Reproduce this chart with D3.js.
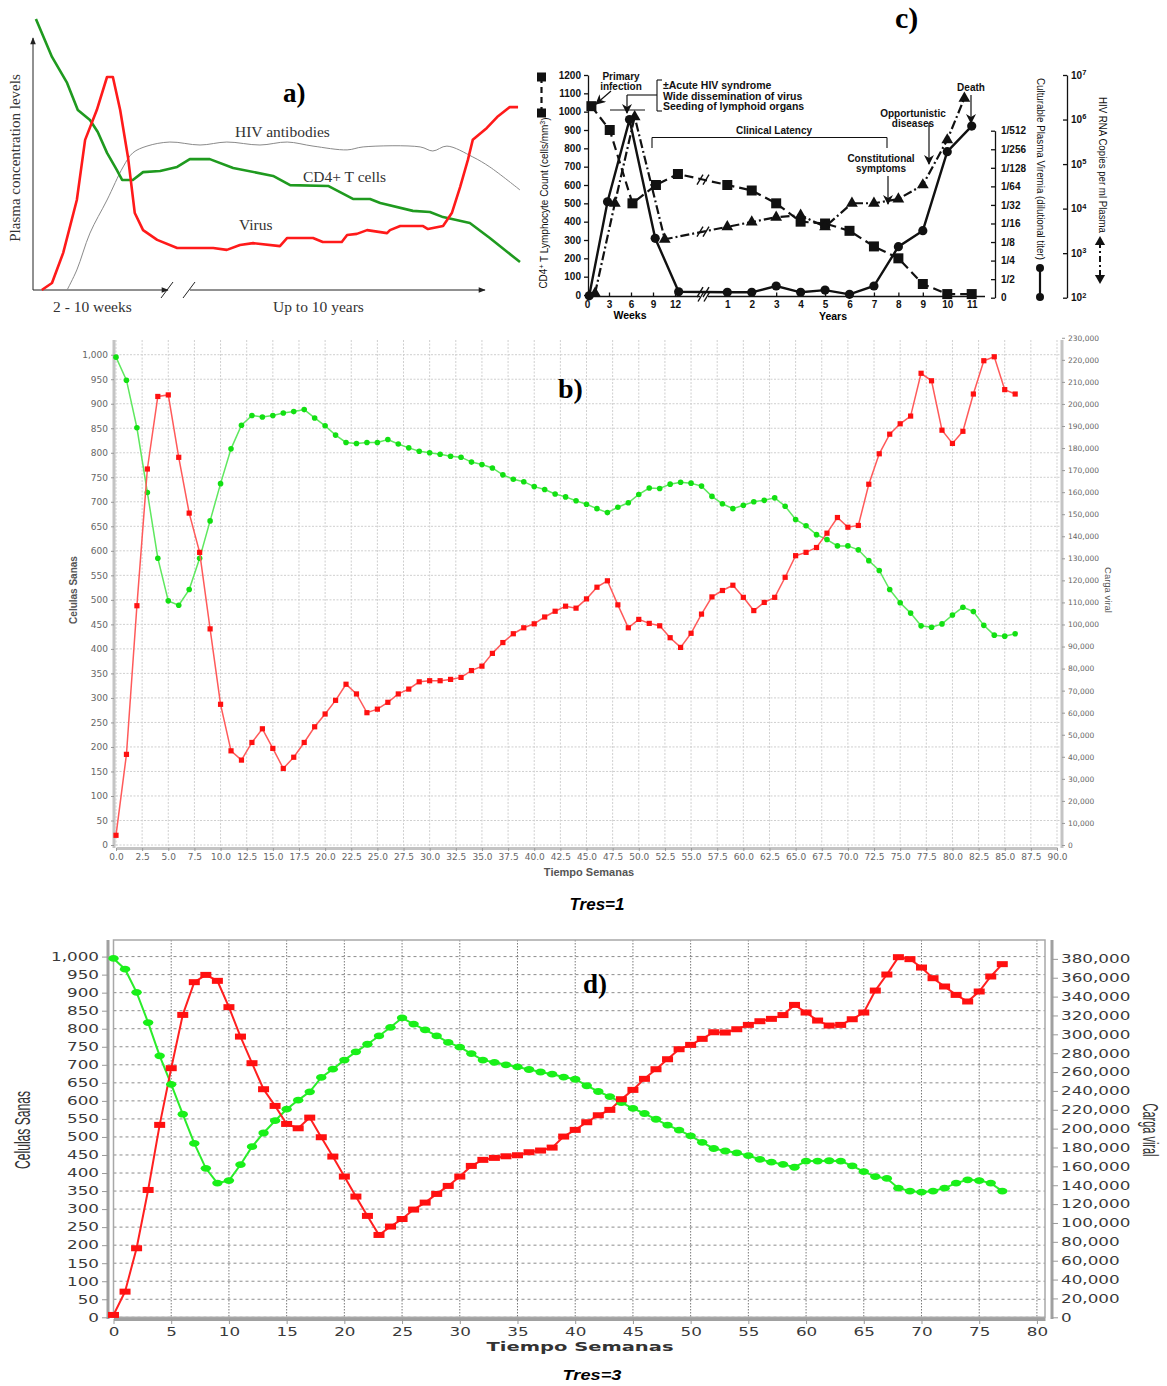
<!DOCTYPE html>
<html>
<head>
<meta charset="utf-8">
<script src="https://d3js.org/d3.v7.min.js"></script>
<style>
  body { margin: 0; background: #fff; }
  svg { display: block; }
</style>
</head>
<body>
<script>
/* Data */

// a) schematic curves, [time 0-100, level 0-100]
var aCd4 = [[0.6,100],[3.9,86],[7.0,76.4],[9.2,66.4],[11.7,62.7],[13.3,58.3],[15.2,50.6],[17.2,44.3],[18.3,40.6],[20.5,40.6],[22.6,43.5],[26.1,43.9],[29.6,45.4],[32.2,48.3],[36.3,48.3],[41.1,45.0],[49.3,42.1],[52.8,38.7],[60.6,38.4],[65.7,33.6],[69.2,33.6],[71.3,32.1],[78.0,29.2],[81.5,28.8],[84.2,26.9],[89.7,24.7],[93.8,19.2],[100,10.3]];
var aVirus = [[1.8,0],[3.9,2.6],[6.2,13.7],[9.0,33.2],[10.7,55.4],[13.1,66.4],[15.2,78.6],[16.4,78.6],[17.9,66.4],[19.5,49.1],[20.9,28.4],[22.6,22.1],[25.5,18.5],[29.6,15.5],[37.0,15.5],[39.8,14.8],[42.5,16.6],[45.2,17.3],[50.7,16.2],[52.2,19.2],[57.5,19.2],[59.5,17.7],[63.4,17.7],[64.5,20.3],[66.5,20.7],[68.6,22.1],[72.7,21.0],[73.3,22.1],[75.4,23.6],[80.1,23.6],[81.1,22.5],[84.2,23.6],[86.0,28.4],[87.7,38.0],[89.3,48.0],[90.3,55.4],[93.2,59.8],[95.3,63.8],[97.9,67.5],[99.6,67.5]];
var aAntibodies = [[7.0,0],[9.0,7.4],[11.7,21.0],[15.2,33.2],[18.5,45.4],[20.5,50.6],[23.4,53.1],[28.1,54.6],[34.3,53.5],[39.8,54.6],[46.6,53.5],[52.2,54.6],[57.5,53.1],[64.5,51.7],[67.8,52.8],[79.5,52.8],[82.1,51.3],[85.0,53.1],[90.3,49.1],[93.8,45.4],[100,36.9]];

// c) CD4 count (squares), HIV RNA (triangles), viremia titer step (circles)
var cSquareWeeks = [0.6, 3.1, 6.2, 9.4, 12.4];
var cSquareWeekVals = [1030, 900, 500, 600, 660];
var cSquareYears = [1, 2, 3, 4, 5, 6, 7, 8, 9, 10, 11];
var cSquareYearVals = [600, 570, 500, 400, 390, 350, 265, 200, 60, 5, 5];
var cTriWeeks = [1.1, 3.8, 6.5, 10.6];
var cTriWeekVals = [125, 13200, 1150000, 2050];
var cTriYears = [1, 2, 3, 4, 5, 6.1, 7, 8, 9, 10, 10.7];
var cTriYearVals = [3900, 5000, 6400, 7100, 3900, 13200, 13200, 16400, 34000, 348000, 3000000];
var cCircWeeks = [0.3, 2.8, 5.8, 9.3, 12.5];
var cCircWeekVals = [0.1, 5.17, 9.6, 3.2, 0.32];
var cCircYears = [1, 2, 3, 4, 5, 6, 7, 8, 9, 10, 11];
var cCircYearVals = [0.29, 0.29, 0.63, 0.29, 0.41, 0.18, 0.63, 2.75, 3.61, 7.87, 9.25];
var cLeftTicks = [0, 100, 200, 300, 400, 500, 600, 700, 800, 900, 1000, 1100, 1200];
var cWeekTicks = [0, 3, 6, 9, 12];
var cYearTicks = [1, 2, 3, 4, 5, 6, 7, 8, 9, 10, 11];
var cTiterLabels = ["0", "1/2", "1/4", "1/8", "1/16", "1/32", "1/64", "1/128", "1/256", "1/512"];
var cRnaTicks = [1e2, 1e3, 1e4, 1e5, 1e6, 1e7];

// b) Tres=1, one value per week
var bCells = [995, 948, 851, 719, 585, 498, 489, 521, 585, 661,
  737, 808, 856, 876, 873, 876, 881, 884, 888, 871,
  855, 836, 821, 819, 821, 821, 827, 818, 810, 803,
  800, 797, 793, 791, 781, 776, 769, 755, 746, 741,
  731, 725, 716, 710, 702, 695, 686, 678, 689, 698,
  715, 728, 727, 736, 740, 738, 732, 711, 696, 686,
  693, 700, 703, 708, 691, 664, 651, 633, 623, 610,
  610, 602, 580, 560, 521, 494, 473, 447, 444, 451,
  469, 485, 476, 448, 428, 426, 431];
var bViral = [4400, 41100, 108500, 170500, 203400, 204100, 175800, 150500, 132700, 98000,
  63800, 42700, 38500, 46500, 52700, 43800, 34700, 39800, 46500, 53600,
  59400, 65600, 72900, 68500, 60000, 61600, 64700, 68500, 70700, 74000,
  74500, 74500, 75100, 76000, 79100, 81100, 86900, 91800, 95800, 98500,
  100300, 103400, 106000, 108300, 107400, 111600, 116900, 119800, 108900, 98500,
  102300, 100500, 99400, 94000, 89600, 96000, 104700, 112500, 115400, 117800,
  112300, 106300, 110000, 112300, 121400, 131200, 132700, 134900, 141400, 148500,
  144100, 144900, 163600, 177400, 186300, 191000, 194500, 213900, 210500, 188100,
  182100, 187600, 204500, 219600, 221400, 206500, 204500];
var bLeftTicks = d3.range(0, 1001, 50);
var bRightTicks = d3.range(0, 230001, 10000);
var bXTicks = d3.range(0, 90.01, 2.5);

// d) Tres=3, one value per week
var dCells = [995, 965, 901, 817, 725, 646, 563, 482, 413, 372,
  379, 423, 473, 511, 545, 577, 602, 625, 665, 688,
  713, 736, 757, 780, 804, 830, 813, 797, 780, 762,
  749, 731, 713, 707, 700, 694, 687, 680, 674, 666,
  660, 642, 626, 612, 595, 579, 565, 549, 533, 519,
  503, 485, 468, 461, 456, 448, 438, 430, 424, 416,
  433, 433, 434, 433, 420, 404, 390, 385, 358, 350,
  347, 350, 358, 372, 381, 379, 372, 350];
var dViral = [2500, 27200, 73200, 135000, 204000, 264100, 320600, 355300, 363000, 356700,
  328800, 297600, 269400, 241800, 224100, 205000, 200400, 211700, 190900, 170400,
  149200, 128000, 107500, 87300, 96200, 104200, 114200, 121600, 130800, 139300,
  149200, 160500, 166900, 169000, 170700, 171800, 175000, 176800, 179900, 191600,
  198700, 206800, 214200, 219900, 231200, 241100, 252800, 263000, 273600, 284200,
  288800, 295200, 302200, 301900, 305400, 310000, 313900, 316400, 320400, 331200,
  323100, 314600, 309300, 310000, 316000, 323100, 346400, 363400, 381800, 379700,
  370800, 359500, 350700, 341800, 334800, 345400, 361300, 374400];
var dLeftTicks = d3.range(0, 1001, 50);
var dRightTicks = d3.range(0, 380001, 20000);
var dXTicks = d3.range(0, 81, 5);

/* Global svg */
var svg = d3.select("body").append("svg")
  .attr("width", 1167)
  .attr("height", 1386)
  .style("background", "#fff");

var defs = svg.append("defs");
defs.append("marker").attr("id", "headA")
  .attr("viewBox", "0 0 10 10").attr("refX", 9).attr("refY", 5)
  .attr("markerWidth", 8).attr("markerHeight", 7).attr("markerUnits", "userSpaceOnUse")
  .attr("orient", "auto")
  .append("path").attr("d", "M0,1 L10,5 L0,9 z").attr("fill", "#222");
defs.append("marker").attr("id", "headC")
  .attr("viewBox", "0 0 10 10").attr("refX", 9).attr("refY", 5)
  .attr("markerWidth", 11).attr("markerHeight", 10).attr("markerUnits", "userSpaceOnUse")
  .attr("orient", "auto")
  .append("path").attr("d", "M0,0 L10,5 L0,10 L3,5 z").attr("fill", "#111");

var serif = "'Liberation Serif', 'DejaVu Serif', serif";
var sans = "'Liberation Sans', Arial, sans-serif";
var dejavu = "'DejaVu Sans', sans-serif";

drawPanelA();
drawPanelC();
drawPanelB();
drawPanelD();


//Panel a: schematic course of infection
function drawPanelA() {
  var g = svg.append("g");
  var x = d3.scaleLinear().domain([0, 100]).range([33, 520]);
  var y = d3.scaleLinear().domain([0, 100]).range([290, 19]);

  //axes with arrows and break
  g.append("line").attr("x1", 33).attr("y1", 290).attr("x2", 33).attr("y2", 38)
    .attr("stroke", "#222").attr("stroke-width", 1).attr("marker-end", "url(#headA)");
  g.append("line").attr("x1", 33).attr("y1", 290).attr("x2", 168).attr("y2", 290)
    .attr("stroke", "#222").attr("stroke-width", 1).attr("marker-end", "url(#headA)");
  g.append("line").attr("x1", 190).attr("y1", 290).attr("x2", 485).attr("y2", 290)
    .attr("stroke", "#222").attr("stroke-width", 1).attr("marker-end", "url(#headA)");
  [[161, 173], [183, 195]].forEach(function (s) {
    g.append("line").attr("x1", s[0]).attr("y1", 298).attr("x2", s[1]).attr("y2", 282)
      .attr("stroke", "#222").attr("stroke-width", 1);
  });

  var lin = d3.line().x(function (d) { return x(d[0]); }).y(function (d) { return y(d[1]); });
  var smooth = d3.line().curve(d3.curveCatmullRom)
    .x(function (d) { return x(d[0]); }).y(function (d) { return y(d[1]); });

  g.append("path").datum(aAntibodies).attr("d", smooth)
    .attr("fill", "none").attr("stroke", "#8a8a8a").attr("stroke-width", 1);
  g.append("path").datum(aCd4).attr("d", lin)
    .attr("fill", "none").attr("stroke", "#1f9a1f").attr("stroke-width", 2.6).attr("stroke-linejoin", "round");
  g.append("path").datum(aVirus).attr("d", lin)
    .attr("fill", "none").attr("stroke", "#ff1a1a").attr("stroke-width", 2.6).attr("stroke-linejoin", "round");

  //labels
  var labels = [["HIV antibodies", 235, 137], ["CD4+ T cells", 303, 182], ["Virus", 239, 230],
    ["2 - 10 weeks", 53, 312], ["Up to 10 years", 273, 312]];
  labels.forEach(function (l) {
    g.append("text").attr("x", l[1]).attr("y", l[2]).text(l[0])
      .attr("font-family", serif).attr("font-size", 15.5).attr("fill", "#333");
  });
  g.append("text").attr("transform", "translate(20,158) rotate(-90)")
    .attr("text-anchor", "middle").attr("font-family", serif).attr("font-size", 15)
    .attr("fill", "#333").text("Plasma concentration levels");
  g.append("text").attr("x", 283).attr("y", 102).text("a)")
    .attr("font-family", serif).attr("font-weight", "bold").attr("font-size", 27);
}


//Panel c: clinical course (three series on three axes)
function drawPanelC() {
  var g = svg.append("g").attr("font-family", sans);
  var weekX = d3.scaleLinear().domain([0, 12]).range([587, 675]);
  var yearX = d3.scaleLinear().domain([1, 11]).range([727.3, 971.7]);
  var leftY = d3.scaleLinear().domain([0, 1200]).range([295, 75]);
  var titerY = d3.scaleLinear().domain([0, 9]).range([297.7, 130.7]);
  var rnaY = d3.scaleLog().domain([1e2, 1e7]).range([297.7, 75]);

  function pts(wk, wv, yr, yv, sy) {
    return wk.map(function (w, i) { return [weekX(w), sy(wv[i])]; })
      .concat(yr.map(function (t, i) { return [yearX(t), sy(yv[i])]; }));
  }
  var sq = pts(cSquareWeeks, cSquareWeekVals, cSquareYears, cSquareYearVals, leftY);
  var tri = pts(cTriWeeks, cTriWeekVals, cTriYears, cTriYearVals, rnaY);
  var circ = pts(cCircWeeks, cCircWeekVals, cCircYears, cCircYearVals, titerY);

  //left axis
  var la = g.append("g").attr("transform", "translate(588,0)")
    .call(d3.axisLeft(leftY).tickValues(cLeftTicks).tickFormat(d3.format("d")).tickSize(4).tickSizeOuter(0));
  styleC(la);

  //bottom axes
  var wa = g.append("g").attr("transform", "translate(0,296.5)")
    .call(d3.axisBottom(weekX).tickValues(cWeekTicks).tickSize(-4).tickPadding(4));
  var ya = g.append("g").attr("transform", "translate(0,296.5)")
    .call(d3.axisBottom(yearX).tickValues(cYearTicks).tickSize(-4).tickPadding(4));
  styleC(wa); styleC(ya);
  wa.select(".domain").remove(); ya.select(".domain").remove();
  g.append("line").attr("x1", 587).attr("x2", 700).attr("y1", 296.5).attr("y2", 296.5).attr("stroke", "#111").attr("stroke-width", 1.3);
  g.append("line").attr("x1", 708).attr("x2", 985).attr("y1", 296.5).attr("y2", 296.5).attr("stroke", "#111").attr("stroke-width", 1.3);
  g.append("text").attr("x", 630).attr("y", 319).attr("text-anchor", "middle").attr("font-weight", "bold").attr("font-size", 10.5).text("Weeks");
  g.append("text").attr("x", 833).attr("y", 320).attr("text-anchor", "middle").attr("font-weight", "bold").attr("font-size", 10.5).text("Years");

  //right axis: viremia
  var ta = g.append("g").attr("transform", "translate(995,0)")
    .call(d3.axisRight(titerY).tickValues(d3.range(cTiterLabels.length)).tickSize(-4).tickPadding(6).tickSizeOuter(0)
      .tickFormat(function (i) { return cTiterLabels[i]; }));
  styleC(ta);
  ta.selectAll("text").attr("text-anchor", "start");

  //right axis: RNA copies
  var ra = g.append("g").attr("transform", "translate(1067,0)")
    .call(d3.axisRight(rnaY).tickValues(cRnaTicks).tickSize(-4).tickPadding(4).tickSizeOuter(0));
  styleC(ra);
  ra.selectAll("text").each(function (d) {
    var t = d3.select(this);
    t.text("10");
    t.append("tspan").attr("dy", "-0.5em").attr("font-size", 7.5).text(Math.round(Math.log10(d)));
  });

  //axis titles
  var lt = g.append("text").attr("transform", "translate(547,203) rotate(-90)")
    .attr("text-anchor", "middle").attr("font-size", 10).attr("fill", "#111");
  lt.append("tspan").text("CD4");
  lt.append("tspan").attr("dy", "-0.4em").attr("font-size", 7).text("+");
  lt.append("tspan").attr("dy", "0.4em").text(" T Lymphocyte Count (cells/mm");
  lt.append("tspan").attr("dy", "-0.4em").attr("font-size", 7).text("3");
  lt.append("tspan").attr("dy", "0.4em").text(")");
  g.append("text").attr("transform", "translate(1037,169) rotate(90)")
    .attr("text-anchor", "middle").attr("font-size", 10).attr("fill", "#111")
    .attr("textLength", 182).attr("lengthAdjust", "spacingAndGlyphs")
    .text("Culturable Plasma Viremia (dilutional titer)");
  g.append("text").attr("transform", "translate(1099,165) rotate(90)")
    .attr("text-anchor", "middle").attr("font-size", 10).attr("fill", "#111")
    .attr("textLength", 136).attr("lengthAdjust", "spacingAndGlyphs")
    .text("HIV RNA Copies per ml Plasma");

  //legend symbols beside titles
  g.append("line").attr("x1", 541.5).attr("x2", 541.5).attr("y1", 77).attr("y2", 113)
    .attr("stroke", "#111").attr("stroke-width", 2.2).attr("stroke-dasharray", "6,4");
  [77, 113].forEach(function (yy) {
    g.append("rect").attr("x", 537).attr("y", yy - 4.5).attr("width", 9).attr("height", 9).attr("fill", "#111");
  });
  g.append("line").attr("x1", 1040).attr("x2", 1040).attr("y1", 268).attr("y2", 297)
    .attr("stroke", "#111").attr("stroke-width", 2.2);
  [268, 297].forEach(function (yy) {
    g.append("circle").attr("cx", 1040).attr("cy", yy).attr("r", 4).attr("fill", "#111");
  });
  g.append("line").attr("x1", 1100).attr("x2", 1100).attr("y1", 242).attr("y2", 278)
    .attr("stroke", "#111").attr("stroke-width", 2).attr("stroke-dasharray", "6,3,2,3");
  [[242, 0], [278, 180]].forEach(function (p) {
    g.append("path").attr("d", d3.symbol(d3.symbolTriangle, 45)())
      .attr("transform", "translate(1100," + p[0] + ") rotate(" + p[1] + ")").attr("fill", "#111");
  });

  //series lines
  var line = d3.line();
  g.append("path").datum(sq).attr("d", line).attr("fill", "none").attr("stroke", "#111")
    .attr("stroke-width", 2.2).attr("stroke-dasharray", "9,5");
  g.append("path").datum(tri).attr("d", line).attr("fill", "none").attr("stroke", "#111")
    .attr("stroke-width", 2.2).attr("stroke-dasharray", "9,3,2,3");
  g.append("path").datum(circ).attr("d", line).attr("fill", "none").attr("stroke", "#111")
    .attr("stroke-width", 2.4);

  //markers
  g.selectAll(".sq").data(sq).enter().append("rect")
    .attr("x", function (d) { return d[0] - 5; }).attr("y", function (d) { return d[1] - 5; })
    .attr("width", 10).attr("height", 10).attr("fill", "#111");
  g.selectAll(".tri").data(tri).enter().append("path")
    .attr("d", d3.symbol(d3.symbolTriangle, 60)())
    .attr("transform", function (d) { return "translate(" + d[0] + "," + d[1] + ")"; })
    .attr("fill", "#111");
  g.selectAll(".circ").data(circ).enter().append("circle")
    .attr("cx", function (d) { return d[0]; }).attr("cy", function (d) { return d[1]; })
    .attr("r", 4.6).attr("fill", "#111");

  //break marks on the series lines and axis
  [[sq, cSquareWeeks.length], [tri, cTriWeeks.length], [circ, cCircWeeks.length]].forEach(function (s) {
    var a = s[0][s[1] - 1], b = s[0][s[1]];
    var yb = a[1] + (b[1] - a[1]) * (703 - a[0]) / (b[0] - a[0]);
    breakMark(g, 703, yb);
  });
  breakMark(g, 704, 296.5);

  //annotations
  function label(lines, cx, y0, dy) {
    lines.forEach(function (s, i) {
      g.append("text").attr("x", cx).attr("y", y0 + i * dy).attr("text-anchor", "middle")
        .attr("font-weight", "bold").attr("font-size", 10).attr("fill", "#111").text(s);
    });
  }
  function arrow(x1, y1, x2, y2) {
    g.append("line").attr("x1", x1).attr("y1", y1).attr("x2", x2).attr("y2", y2)
      .attr("stroke", "#111").attr("stroke-width", 1.2).attr("marker-end", "url(#headC)");
  }
  function seg(x1, y1, x2, y2) {
    g.append("line").attr("x1", x1).attr("y1", y1).attr("x2", x2).attr("y2", y2)
      .attr("stroke", "#111").attr("stroke-width", 1.1);
  }
  label(["Primary", "infection"], 621, 80, 10);
  arrow(611, 91, 596, 104);
  ["\u00b1Acute HIV syndrome", "Wide dissemination of virus", "Seeding of lymphoid organs"].forEach(function (s, i) {
    g.append("text").attr("x", 663).attr("y", 89 + i * 10.5).attr("font-weight", "bold")
      .attr("font-size", 10.5).attr("fill", "#111").text(s);
  });
  seg(657, 80, 657, 111); seg(657, 80, 662, 80); seg(657, 111, 662, 111);
  seg(627, 95, 657, 95);
  arrow(627, 95, 627, 113);
  seg(610, 110, 645, 110);
  label(["Clinical Latency"], 774, 134, 0);
  seg(652, 137.5, 887, 137.5); seg(652, 137.5, 652, 148); seg(887, 137.5, 887, 148);
  label(["Constitutional", "symptoms"], 881, 162, 10);
  arrow(888, 176, 888, 204);
  label(["Opportunistic", "diseases"], 913, 117, 10);
  arrow(929, 123, 929, 164);
  label(["Death"], 971, 91, 0);
  arrow(971, 95, 971, 123);

  g.append("text").attr("x", 895).attr("y", 28).text("c)")
    .attr("font-family", serif).attr("font-weight", "bold").attr("font-size", 30);
}

function styleC(ax) {
  ax.attr("font-family", sans).attr("font-size", 10).attr("font-weight", "bold");
  ax.selectAll("path, line").attr("stroke", "#111").attr("stroke-width", 1.3);
  ax.selectAll("text").attr("fill", "#111");
}

function breakMark(g, x, y) {
  [-3, 3].forEach(function (o) {
    g.append("line").attr("x1", x + o - 3).attr("y1", y + 5).attr("x2", x + o + 3).attr("y2", y - 5)
      .attr("stroke", "#111").attr("stroke-width", 1.4);
  });
}


//Panel b: simulation Tres=1
function drawPanelB() {
  var g = svg.append("g");
  var x = d3.scaleLinear().domain([0, 90]).range([116, 1057]);
  var y = d3.scaleLinear().domain([0, 1030]).range([845, 340]);
  var y2 = d3.scaleLinear().domain([0, 229000]).range([845, 340]);

  //grid
  g.selectAll(".hg").data(bLeftTicks).enter().append("line")
    .attr("x1", 116).attr("x2", 1060).attr("y1", function (d) { return y(d); }).attr("y2", function (d) { return y(d); })
    .attr("stroke", "#cfcfcf").attr("stroke-dasharray", "2,1.5");
  g.selectAll(".vg").data(bXTicks).enter().append("line")
    .attr("y1", 340).attr("y2", 846).attr("x1", function (d) { return x(d); }).attr("x2", function (d) { return x(d); })
    .attr("stroke", "#cfcfcf").attr("stroke-dasharray", "2,1.5");

  //axes
  var la = g.append("g").attr("transform", "translate(114,0)")
    .call(d3.axisLeft(y).tickValues(bLeftTicks).tickFormat(d3.format(",")).tickSize(3).tickSizeOuter(0));
  var ba = g.append("g").attr("transform", "translate(0,848)")
    .call(d3.axisBottom(x).tickValues(bXTicks).tickFormat(d3.format(".1f")).tickSize(3).tickSizeOuter(0));
  var ra = g.append("g").attr("transform", "translate(1062,0)")
    .call(d3.axisRight(y2).tickValues(bRightTicks).tickFormat(d3.format(",")).tickSize(3).tickSizeOuter(0));
  [la, ba, ra].forEach(function (a) {
    a.attr("font-family", dejavu).attr("font-size", 9);
    a.selectAll("text").attr("fill", "#666");
    a.selectAll("line").attr("stroke", "#999");
    a.select(".domain").attr("stroke", "#c4c4c4").attr("stroke-width", 3);
  });
  ra.attr("font-size", 7.5);
  la.select(".domain").attr("d", "M0,340V848");
  ra.select(".domain").attr("d", "M0,340V848");

  //series
  var cellLine = d3.line().x(function (d, i) { return x(i); }).y(function (d) { return y(d); });
  var viralLine = d3.line().x(function (d, i) { return x(i); }).y(function (d) { return y2(d); });
  g.append("path").datum(bCells).attr("d", cellLine).attr("fill", "none")
    .attr("stroke", "#5fe85f").attr("stroke-width", 1.5);
  g.selectAll(".bc").data(bCells).enter().append("circle")
    .attr("cx", function (d, i) { return x(i); }).attr("cy", function (d) { return y(d); })
    .attr("r", 2.8).attr("fill", "#12e012");
  g.append("path").datum(bViral).attr("d", viralLine).attr("fill", "none")
    .attr("stroke", "#ff5a5a").attr("stroke-width", 1.5);
  g.selectAll(".bv").data(bViral).enter().append("rect")
    .attr("x", function (d, i) { return x(i) - 2.6; }).attr("y", function (d) { return y2(d) - 2.6; })
    .attr("width", 5.2).attr("height", 5.2).attr("fill", "#ff1010");

  //titles
  g.append("text").attr("transform", "translate(77,590) rotate(-90)").attr("text-anchor", "middle")
    .attr("font-family", sans).attr("font-weight", "bold").attr("font-size", 10).attr("fill", "#555").text("Celulas Sanas");
  g.append("text").attr("transform", "translate(1105,590) rotate(90)").attr("text-anchor", "middle")
    .attr("font-family", sans).attr("font-size", 9.5).attr("fill", "#555").text("Carga viral");
  g.append("text").attr("x", 589).attr("y", 876).attr("text-anchor", "middle")
    .attr("font-family", sans).attr("font-weight", "bold").attr("font-size", 11).attr("fill", "#555").text("Tiempo Semanas");
  g.append("text").attr("x", 597).attr("y", 910).attr("text-anchor", "middle")
    .attr("font-family", sans).attr("font-weight", "bold").attr("font-style", "italic").attr("font-size", 17).text("Tres=1");
  g.append("text").attr("x", 558).attr("y", 398).text("b)")
    .attr("font-family", serif).attr("font-weight", "bold").attr("font-size", 28);
}


//Panel d: simulation Tres=3 (the source is stretched horizontally)
function drawPanelD() {
  var g = svg.append("g");
  var k = 1.4;
  var x = d3.scaleLinear().domain([0, 80.7]).range([113.5, 1045]);
  var y = d3.scaleLinear().domain([0, 1046]).range([1317.3, 940]);
  var y2 = d3.scaleLinear().domain([0, 400000]).range([1317.3, 940]);

  //grid
  g.selectAll(".hg").data(dLeftTicks).enter().append("line")
    .attr("x1", 113.5).attr("x2", 1045).attr("y1", function (d) { return y(d); }).attr("y2", function (d) { return y(d); })
    .attr("stroke", "#8c8c8c").attr("stroke-dasharray", "3,3");
  g.selectAll(".vg").data(dXTicks).enter().append("line")
    .attr("y1", 940).attr("y2", 1317).attr("x1", function (d) { return x(d); }).attr("x2", function (d) { return x(d); })
    .attr("stroke", "#7a7a7a").attr("stroke-dasharray", "1.5,1.5");
  g.append("rect").attr("x", 113.5).attr("y", 940).attr("width", 931.5).attr("height", 377.3)
    .attr("fill", "none").attr("stroke", "#a8a8a8").attr("stroke-width", 1.5);

  //axes
  var la = g.append("g").attr("transform", "translate(108,0)")
    .call(d3.axisLeft(y).tickValues(dLeftTicks).tickFormat(d3.format(",")).tickSize(6).tickSizeOuter(0));
  var ba = g.append("g").attr("transform", "translate(0,1319)")
    .call(d3.axisBottom(x).tickValues(dXTicks).tickSize(5).tickSizeOuter(0));
  var ra = g.append("g").attr("transform", "translate(1052,0)")
    .call(d3.axisRight(y2).tickValues(dRightTicks).tickFormat(d3.format(",")).tickSize(6).tickSizeOuter(0));
  [la, ba, ra].forEach(function (a) {
    a.attr("font-family", dejavu).attr("font-size", 12);
    a.selectAll("line").attr("stroke", "#999");
    a.select(".domain").attr("stroke", "#a0a0a0").attr("stroke-width", 3);
    a.selectAll("text").attr("fill", "#3a3a3a").each(function () {
      var t = d3.select(this);
      var tx = +t.attr("x") || 0;
      t.attr("x", 0).attr("transform", "translate(" + tx + ",0) scale(" + k + ",1)");
    });
  });
  la.select(".domain").attr("d", "M0,940V1319");
  ra.select(".domain").attr("d", "M0,940V1319");

  //series
  var cellLine = d3.line().x(function (d, i) { return x(i); }).y(function (d) { return y(d); });
  var viralLine = d3.line().x(function (d, i) { return x(i); }).y(function (d) { return y2(d); });
  g.append("path").datum(dCells).attr("d", cellLine).attr("fill", "none")
    .attr("stroke", "#2bec2b").attr("stroke-width", 2);
  g.append("path").datum(dViral).attr("d", viralLine).attr("fill", "none")
    .attr("stroke", "#ff2020").attr("stroke-width", 2);
  g.selectAll(".dc").data(dCells).enter().append("ellipse")
    .attr("cx", function (d, i) { return x(i); }).attr("cy", function (d) { return y(d); })
    .attr("rx", 5.2).attr("ry", 3.4).attr("fill", "#19f019");
  g.selectAll(".dv").data(dViral).enter().append("rect")
    .attr("x", function (d, i) { return x(i) - 5.5; }).attr("y", function (d) { return y2(d) - 3; })
    .attr("width", 11).attr("height", 6).attr("fill", "#ff1010");

  //titles
  g.append("text").attr("transform", "translate(30,1130) scale(" + k + ",1) rotate(-90)").attr("text-anchor", "middle")
    .attr("font-family", sans).attr("font-size", 16).attr("fill", "#333")
    .attr("textLength", 78).attr("lengthAdjust", "spacingAndGlyphs").text("Celulas Sanas");
  g.append("text").attr("transform", "translate(1143,1130) scale(" + k + ",1) rotate(90)").attr("text-anchor", "middle")
    .attr("font-family", sans).attr("font-size", 16).attr("fill", "#333")
    .attr("textLength", 53).attr("lengthAdjust", "spacingAndGlyphs").text("Carga viral");
  g.append("text").attr("transform", "translate(580,1351) scale(1.5,1)").attr("text-anchor", "middle")
    .attr("font-family", dejavu).attr("font-weight", "bold").attr("font-size", 13).attr("fill", "#333").text("Tiempo Semanas");
  g.append("text").attr("transform", "translate(592,1380) scale(1.3,1)").attr("text-anchor", "middle")
    .attr("font-family", sans).attr("font-weight", "bold").attr("font-style", "italic").attr("font-size", 14).text("Tres=3");
  g.append("text").attr("x", 583).attr("y", 993).text("d)")
    .attr("font-family", serif).attr("font-weight", "bold").attr("font-size", 27);
}
</script>
</body>
</html>
